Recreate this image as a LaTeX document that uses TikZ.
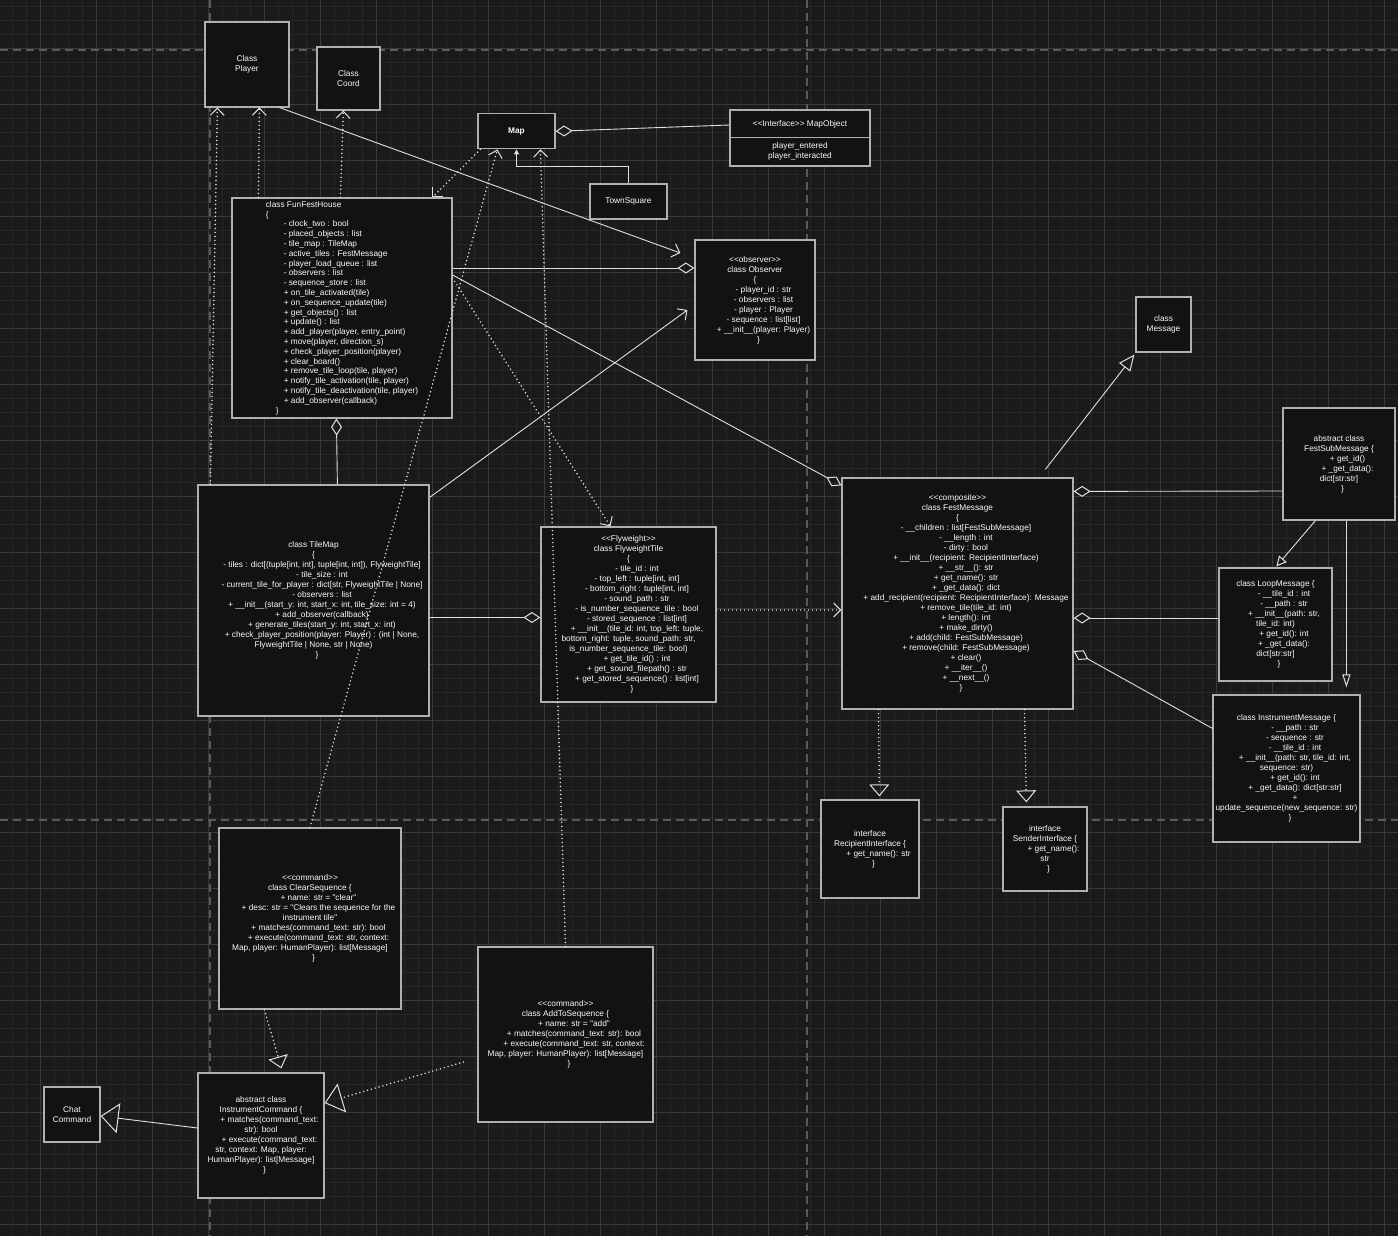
\documentclass[tikz,border=0pt]{standalone}
\usepackage{fontspec}
\setmainfont{Liberation Sans}[Ligatures=TeXOff]
\usetikzlibrary{arrows.meta}
\definecolor{bg}{HTML}{1A1A1A}
\definecolor{gminor}{HTML}{262626}
\definecolor{gmajor}{HTML}{3A3A3A}
\definecolor{pagel}{HTML}{5A5A5A}
\definecolor{boxfill}{HTML}{121212}
\definecolor{boxline}{HTML}{B0B0B0}
\definecolor{txt}{HTML}{FAFAFA}
\definecolor{conn}{HTML}{E0E0E0}
\newcommand\mb[1]{\mbox{\kern17pt#1}}
\newcommand\cb{\mbox{\kern7pt\}}}
\newcommand\fs{\fontsize{8.3}{10}\selectfont}
\begin{document}
\begin{tikzpicture}[x=1pt,y=-1pt,
  box/.style={draw=boxline, fill=boxfill, line width=1.2pt, inner sep=0pt, align=center, text=txt, font=\fs},
  plain/.style={inner sep=0pt, align=center, text=txt, font=\fs},
  solidc/.style={draw=conn, line width=0.9pt},
  dotc/.style={draw=conn, line width=1.7pt, dash pattern=on 0pt off 4pt, line cap=round},
  barb/.style={-{Straight Barb[length=7pt,width=14pt,line width=1pt]}},
  dia/.style={-{Diamond[open,length=17pt,width=11pt,line width=1pt]}},
  tri/.style={-{Triangle[open,length=12pt,width=20pt,line width=1pt]}},
  trib/.style={-{Triangle[open,length=18pt,width=30pt,line width=1pt]}},
  tris/.style={-{Triangle[open,length=10pt,width=10pt,line width=1pt]}},
  trin/.style={-{Triangle[open,length=13pt,width=8pt,line width=1pt]}},
  trim/.style={-{Triangle[open,length=16pt,width=14pt,line width=1pt]}},
  minorl/.style={draw=gminor, line width=0.8pt},
  majorl/.style={draw=gmajor, line width=0.9pt},
  pagedash/.style={draw=pagel, line width=1.5pt, dash pattern=on 8pt off 5pt}
]
\useasboundingbox (0,0) rectangle (1398,1236);
\fill[bg] (0,0) rectangle (1398,1236);
% grid
\foreach \x in {12,26,...,1398} \draw[minorl] (\x,0) -- (\x,1236);
\foreach \y in {6,20,...,1236} \draw[minorl] (0,\y) -- (1398,\y);
\foreach \x in {40,96,...,1398} \draw[majorl] (\x,0) -- (\x,1236);
\foreach \y in {48,104,...,1236} \draw[majorl] (0,\y) -- (1398,\y);
% page breaks
\draw[pagedash] (210,0) -- (210,1236);
\draw[pagedash] (807,0) -- (807,1236);
\draw[pagedash] (0,50) -- (1398,50);
\draw[pagedash] (0,820) -- (1398,820);

% boxes
\node[box, minimum width=84pt, minimum height=85pt] (player) at (247,64.5) {Class\\Player};
\node[box, minimum width=63pt, minimum height=63pt] (coord) at (348.5,78.5) {Class\\Coord};
\node[box, minimum width=77pt, minimum height=35pt] (map) at (516.5,131.3) {\textbf{Map}};
\node[box, minimum width=140pt, minimum height=56pt] (mapobj) at (800,138) {};
\draw[draw=boxline, line width=1.2pt] (mapobj.west |- 0,137.5) -- (mapobj.east |- 0,137.5);
\node[plain] (mapobjt) at (800,124) {<<Interface>> MapObject};
\node[plain] (mapobjb) at (800,151.5) {player\_entered\\player\_interacted};
\node[box, minimum width=77pt, minimum height=35pt] (town) at (628.5,201.5) {TownSquare};

\node[box, align=left, font=\fontsize{8.3}{9.8}\selectfont, minimum width=220pt, minimum height=220pt] (ffh) at (342,308) {class FunFestHouse\\
\{\\
\mbox{\kern18pt- clock\_two : bool}\\
\mbox{\kern18pt- placed\_objects : list}\\
\mbox{\kern18pt- tile\_map : TileMap}\\
\mbox{\kern18pt- active\_tiles : FestMessage}\\
\mbox{\kern18pt- player\_load\_queue : list}\\
\mbox{\kern18pt- observers : list}\\
\mbox{\kern18pt- sequence\_store : list}\\
\mbox{\kern18pt+ on\_tile\_activated(tile)}\\
\mbox{\kern18pt+ on\_sequence\_update(tile)}\\
\mbox{\kern18pt+ get\_objects() : list}\\
\mbox{\kern18pt+ update() : list}\\
\mbox{\kern18pt+ add\_player(player, entry\_point)}\\
\mbox{\kern18pt+ move(player, direction\_s)}\\
\mbox{\kern18pt+ check\_player\_position(player)}\\
\mbox{\kern18pt+ clear\_board()}\\
\mbox{\kern18pt+ remove\_tile\_loop(tile, player)}\\
\mbox{\kern18pt+ notify\_tile\_activation(tile, player)}\\
\mbox{\kern18pt+ notify\_tile\_deactivation(tile, player)}\\
\mbox{\kern18pt+ add\_observer(callback)}\\
\mbox{\kern10pt\}}};

\node[box, minimum width=120pt, minimum height=120pt] (obs) at (755,300) {<<observer>>\\class Observer\\\{\\
\mb{- player\_id : str}\\\mb{- observers : list}\\\mb{- player : Player}\\\mb{- sequence : list[list]}\\\mb{+ \_\_init\_\_(player: Player)}\\\cb};

\node[box, minimum width=55pt, minimum height=55pt] (msg) at (1163.5,324.5) {class\\Message};

\node[box, minimum width=231pt, minimum height=231pt] (tilemap) at (313.5,600.5) {class TileMap\\\{\\
\mb{- tiles : dict[(tuple[int, int], tuple[int, int]), FlyweightTile]}\\
\mb{- tile\_size : int}\\
\mb{- current\_tile\_for\_player : dict[str, FlyweightTile | None]}\\
\mb{- observers : list}\\
\mb{+ \_\_init\_\_(start\_y: int, start\_x: int, tile\_size: int = 4)}\\
\mb{+ add\_observer(callback)}\\
\mb{+ generate\_tiles(start\_y: int, start\_x: int)}\\
\mb{+ check\_player\_position(player: Player) : (int | None,}\\
FlyweightTile | None, str | None)\\\cb};

\node[box, minimum width=175pt, minimum height=175pt] (fly) at (628.5,614.5) {<<Flyweight>>\\class FlyweightTile\\\{\\
\mb{- tile\_id : int}\\
\mb{- top\_left : tuple[int, int]}\\
\mb{- bottom\_right : tuple[int, int]}\\
\mb{- sound\_path : str}\\
\mb{- is\_number\_sequence\_tile : bool}\\
\mb{- stored\_sequence : list[int]}\\
\mb{+ \_\_init\_\_(tile\_id: int, top\_left: tuple,}\\
bottom\_right: tuple, sound\_path: str,\\
is\_number\_sequence\_tile: bool)\\
\mb{+ get\_tile\_id() : int}\\
\mb{+ get\_sound\_filepath() : str}\\
\mb{+ get\_stored\_sequence() : list[int]}\\\cb};

\node[box, minimum width=231pt, minimum height=231pt] (fest) at (957.5,593.5) {<<composite>>\\class FestMessage\\\{\\
\mb{- \_\_children : list[FestSubMessage]}\\
\mb{- \_\_length : int}\\
\mb{- dirty : bool}\\
\mb{+ \_\_init\_\_(recipient: RecipientInterface)}\\
\mb{+ \_\_str\_\_(): str}\\
\mb{+ get\_name(): str}\\
\mb{+ \_get\_data(): dict}\\
\mb{+ add\_recipient(recipient: RecipientInterface): Message}\\
\mb{+ remove\_tile(tile\_id: int)}\\
\mb{+ length(): int}\\
\mb{+ make\_dirty()}\\
\mb{+ add(child: FestSubMessage)}\\
\mb{+ remove(child: FestSubMessage)}\\
\mb{+ clear()}\\
\mb{+ \_\_iter\_\_()}\\
\mb{+ \_\_next\_\_()}\\\cb};

\node[box, minimum width=112pt, minimum height=112pt] (fsub) at (1339,464) {abstract class\\FestSubMessage \{\\
\mb{+ get\_id()}\\\mb{+ \_get\_data():}\\dict[str:str]\\\cb};

\node[box, minimum width=113pt, minimum height=113pt] (loop) at (1275.5,624.5) {class LoopMessage \{\\
\mb{- \_\_tile\_id : int}\\\mb{- \_\_path : str}\\\mb{+ \_\_init\_\_(path: str,}\\tile\_id: int)\\
\mb{+ get\_id(): int}\\\mb{+ \_get\_data():}\\dict[str:str]\\\cb};

\node[box, minimum width=147pt, minimum height=147pt] (instmsg) at (1286.5,768.5) {class InstrumentMessage \{\\
\mb{- \_\_path : str}\\\mb{- sequence : str}\\\mb{- \_\_tile\_id : int}\\
\mb{+ \_\_init\_\_(path: str, tile\_id: int,}\\sequence: str)\\
\mb{+ get\_id(): int}\\\mb{+ \_get\_data(): dict[str:str]}\\\mb{+}\\
update\_sequence(new\_sequence: str)\\\cb};

\node[box, minimum width=98pt, minimum height=98pt] (recip) at (870,849) {interface\\RecipientInterface \{\\\mb{+ get\_name(): str}\\\cb};
\node[box, minimum width=84pt, minimum height=84pt] (sender) at (1045,849) {interface\\SenderInterface \{\\\mb{+ get\_name():}\\str\\\cb};

\node[box, minimum width=182pt, minimum height=181pt] (clear) at (310,918.5) {<<command>>\\class ClearSequence \{\\
\mb{+ name: str = "clear"}\\
\mb{+ desc: str = "Clears the sequence for the}\\
instrument tile"\\
\mb{+ matches(command\_text: str): bool}\\
\mb{+ execute(command\_text: str, context:}\\
Map, player: HumanPlayer): list[Message]\\\cb};

\node[box, minimum width=175pt, minimum height=175pt] (add) at (565.5,1034.5) {<<command>>\\class AddToSequence \{\\
\mb{+ name: str = "add"}\\
\mb{+ matches(command\_text: str): bool}\\
\mb{+ execute(command\_text: str, context:}\\
Map, player: HumanPlayer): list[Message]\\\cb};

\node[box, minimum width=126pt, minimum height=125pt] (icmd) at (261,1135.5) {abstract class\\InstrumentCommand \{\\
\mb{+ matches(command\_text:}\\str): bool\\
\mb{+ execute(command\_text:}\\str, context: Map, player:\\HumanPlayer): list[Message]\\\cb};

\node[box, minimum width=56pt, minimum height=55pt] (chat) at (72,1114.5) {Chat\\Command};

% connectors
\draw[dotc, barb] ([xshift=13pt]tilemap.north west) -- ([xshift=13pt]player.south west);
\draw[dotc, barb] ([xshift=27pt]ffh.north west) -- ([xshift=55pt]player.south west);
\draw[dotc, barb] ([xshift=109pt]ffh.north west) -- ([xshift=27pt]coord.south west);
\draw[dotc, barb] ([xshift=3pt]map.south west) -- ([xshift=201pt]ffh.north west);
\draw[dotc, barb] (clear.north) -- ([xshift=20pt]map.south west);
\draw[dotc, barb] (add.north) -- ([xshift=63pt]map.south west);
\draw[dotc, barb] ([yshift=30pt]ffh.east) -- ([xshift=70pt]fly.north west);
\draw[solidc, dia] ([yshift=40pt]ffh.east) -- ([yshift=32pt]obs.west);
\draw[solidc, dia] ([yshift=33pt]ffh.east) -- ([yshift=-8pt]fest.north west);
\draw[solidc, barb] ([xshift=-10pt]player.south east) -- ([xshift=-14pt,yshift=47pt]obs.west);
\draw[solidc, barb] ([yshift=-13pt]tilemap.north east) -- ([xshift=-7pt,yshift=-10pt]obs.west);
\draw[solidc, dia] ([xshift=140pt]tilemap.north west) -- ([xshift=105pt]ffh.south west);
\draw[solidc, dia] ([yshift=-17pt]tilemap.east) -- ([yshift=-3pt]fly.west);
\draw[dotc, barb] ([yshift=4.5pt]fly.east) -- ([yshift=-16.5pt]fest.west);
\draw[dotc, tri] ([xshift=37pt]fest.south west) -- ([xshift=59pt,yshift=3pt]recip.north west);
\draw[dotc, tri] ([xshift=183pt]fest.south west) -- ([xshift=24pt,yshift=4pt]sender.north west);
\draw[solidc, dia] ([yshift=-27pt]fsub.west) -- ([yshift=-14pt]fest.north east);
\draw[solidc, dia] ([yshift=6.5pt]loop.west) -- ([yshift=-24.5pt]fest.east);
\draw[solidc, dia] ([yshift=-34pt]instmsg.north west) -- ([yshift=-57.5pt]fest.east);
\draw[solidc, tris] ([xshift=33pt]fsub.south west) -- ([xshift=58pt,yshift=1pt]loop.north west);
\draw[solidc, trin] ([xshift=64pt]fsub.south west) -- ([xshift=134pt,yshift=7pt]instmsg.north west);
\draw[solidc, trim] ([xshift=204pt,yshift=8pt]fest.north west) -- ([xshift=-1pt,yshift=-2pt]msg.south west);
\draw[solidc, -{Triangle[length=5pt,width=5pt]}] (town.north) |- ([yshift=-17pt]map.south) -- (map.south);
\draw[solidc, dia] ([yshift=13pt]mapobj.west) -- (map.east);
\draw[solidc, trib] ([yshift=7.5pt]icmd.west) -- ([yshift=-1.5pt]chat.east);
\draw[dotc, trib] ([xshift=-14pt,yshift=-27.5pt]add.west) -- ([yshift=32.5pt]icmd.east);
\draw[dotc, tri] ([xshift=46pt]clear.south west) -- ([xshift=84pt,yshift=4pt]icmd.north west);
\end{tikzpicture}
\end{document}
